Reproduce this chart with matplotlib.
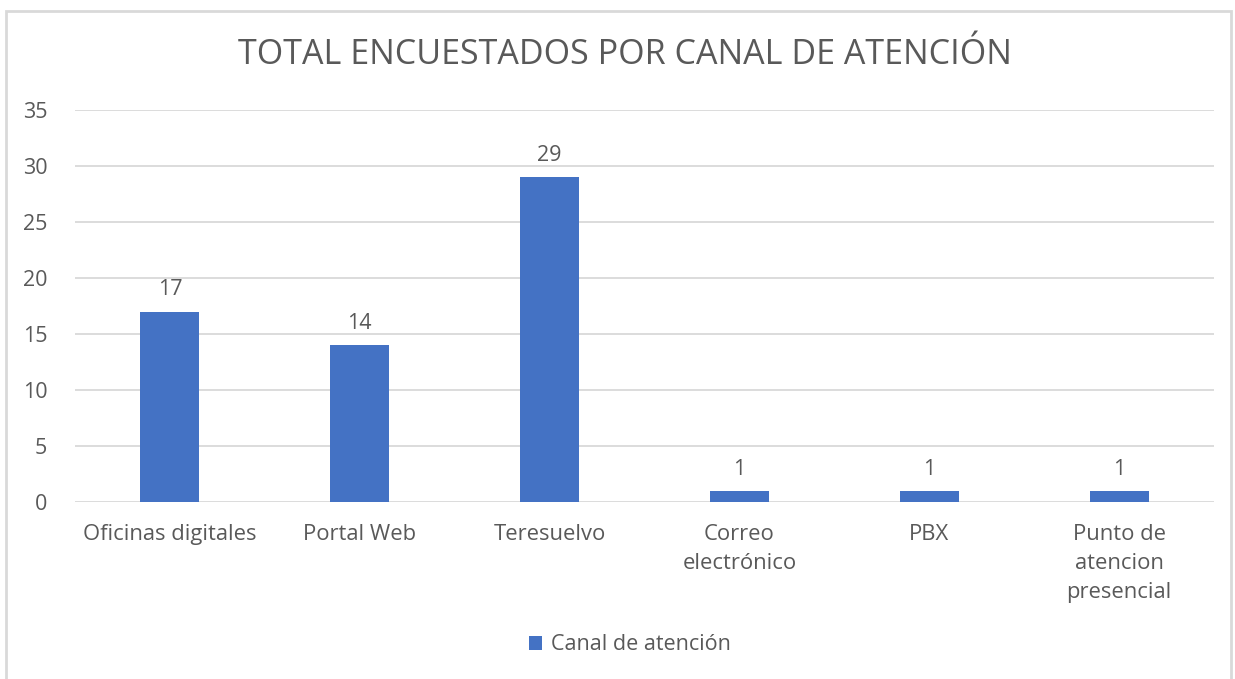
import matplotlib
matplotlib.use("Agg")
import matplotlib.pyplot as plt
from matplotlib.patches import Rectangle

categories = ["Oficinas digitales", "Portal Web", "Teresuelvo", "Correo\nelectrónico", "PBX", "Punto de\natencion\npresencial"]
values = [17, 14, 29, 1, 1, 1]
yticks = [0, 5, 10, 15, 20, 25, 30, 35]
series_name = "Canal de atención"
title = "TOTAL ENCUESTADOS POR CANAL DE ATENCIÓN"

plt.rcParams['font.family'] = ['Open Sans', 'DejaVu Sans']
txt = "#595959"
bar_color = "#4472C4"

fig = plt.figure(figsize=(12.35, 6.79), dpi=100)
fig.patches.append(Rectangle((6/1235, -0.01), (1231-6)/1235, 1 - 11/679 + 0.01,
                             transform=fig.transFigure, fill=False, edgecolor="#d9d9d9", linewidth=2))
ax = fig.add_axes([75/1235, 1 - 502/679, (1214-75)/1235, (502-110)/679])

x = list(range(len(categories)))
bars = ax.bar(x, values, width=0.31, color=bar_color, label=series_name, zorder=3)
for xi, v in zip(x, values):
    ax.annotate(str(v), (xi, v), xytext=(0, 8), textcoords="offset points",
                ha="center", va="bottom", fontsize=15.5, color=txt)

ax.set_xlim(-0.5, len(categories) - 0.5)
ax.set_ylim(0, 35)
ax.set_yticks(yticks)
ax.set_yticklabels([str(t) for t in yticks], fontsize=15.5, color=txt)
ax.set_xticks(x)
ax.set_xticklabels(categories, fontsize=15.8, color=txt, linespacing=1.5)
ax.tick_params(axis="both", length=0)
ax.tick_params(axis="y", pad=20)
ax.tick_params(axis="x", pad=16)
ax.grid(axis="y", color="#d9d9d9", linewidth=1.3, zorder=0)
for s in ax.spines.values():
    s.set_visible(False)

fig.text(625/1235, 1 - 55/679, title, ha="center", va="center", fontsize=24.5, color=txt)
fig.legend(handles=[bars], labels=[series_name], loc="center", bbox_to_anchor=(630/1235, 1 - 645/679),
           frameon=False, fontsize=15.5, labelcolor=txt, handlelength=0.6, handleheight=0.6, handletextpad=0.4)

fig.savefig("out.png", dpi=100)
